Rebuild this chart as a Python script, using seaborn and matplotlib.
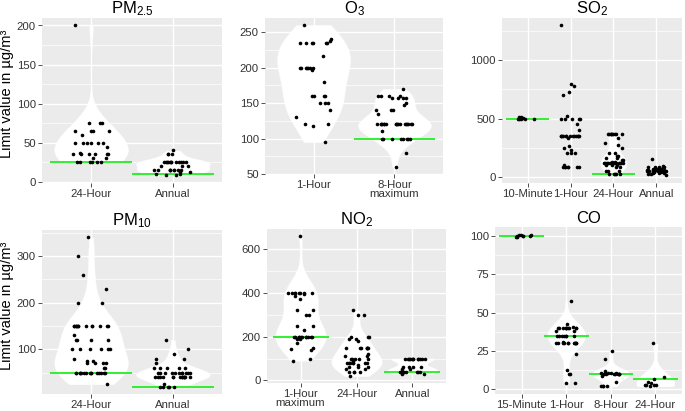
import numpy as np
import pandas as pd
import matplotlib
matplotlib.use('Agg')
import matplotlib.pyplot as plt
import seaborn as sns
from matplotlib.ticker import MultipleLocator, NullLocator

# ---- values ----
# PM2.5
pm25_cats = ['24-Hour', 'Annual']
pm25_24h = [200, 75, 75, 75, 65, 65, 65, 65, 60, 50, 50, 50, 50, 50, 50, 45, 37,
            35, 35, 35, 35, 35, 35, 30, 30, 25, 25, 25, 25, 25, 25]
pm25_annual = [40, 35, 35, 35] + [25] * 12 + [20, 20, 20] + [15] * 9 + [12, 12, 10, 10, 8, 8]
pm25_guide = [25, 10]

# O3
o3_cats = ['1-Hour', '8-Hour\nmaximum']
o3_1h = [260, 240, 237, 235, 235, 235, 235, 235, 235, 217] + [200] * 7 + \
        [197, 180, 160, 160, 160, 160, 150, 150, 150, 140, 130, 120, 120, 118, 95]
o3_8h = [170] + [160] * 4 + [157] * 4 + [150, 147, 140, 140, 140, 135] + [120] * 18 + \
        [110] + [100] * 8 + [80, 60]
o3_guide = [None, 100]

# SO2
so2_cats = ['10-Minute', '1-Hour', '24-Hour', 'Annual']
so2_10m = [500, 500, 505, 500, 505, 500, 495, 510, 510]
so2_1h = [1300, 800, 780, 730, 700, 520] + [500] * 5 + [450, 400] + [350] * 13 + \
         [330, 260, 250, 230, 200, 200, 200, 100] + [80] * 7
so2_24h = [370] * 9 + [330, 290, 270, 250, 200, 200, 180, 180, 160, 160, 140, 140, 130, 130] + \
          [120] * 12 + [100, 100, 100, 80, 80, 50, 50, 50] + [20] * 5
so2_annual = [150, 90] + [80] * 5 + [70] * 3 + [60] * 8 + [50] * 6 + [40] * 5 + [30] * 3 + [20, 20, 10]
so2_guide = [500, None, 20, None]

# PM10
pm10_cats = ['24-Hour', 'Annual']
pm10_24h = [340, 300, 260, 230, 200, 200] + [150] * 13 + [130, 120, 120, 120, 120] + [100] * 6 + \
           [80, 75, 75, 70, 70, 70, 70, 60, 60] + [50] * 15 + [25]
pm10_annual = [120, 100, 90, 80, 80, 70] + [60] * 5 + [50] * 11 + [40] * 14 + [25] + [20] * 5
pm10_guide = [50, 20]

# NO2
no2_cats = ['1-Hour\nmaximum', '24-Hour', 'Annual']
no2_1h = [660] + [400] * 8 + [395, 385, 370, 320, 320, 300, 300, 250, 250, 230] + [200] * 11 + \
         [190, 190, 170, 150, 145, 140, 100, 90]
no2_24h = [320, 300, 300, 200, 200, 200, 190, 190, 180] + [150] * 7 + [120, 110, 110] + [100] * 5 + \
          [90] + [80] * 7 + [70, 60, 60, 60, 50, 50, 40, 40, 40, 40, 20]
no2_annual = [100] * 12 + [60] * 4 + [50, 50] + [40] * 9 + [30, 30]
no2_guide = [200, None, 40]

# CO
co_cats = ['15-Minute', '1-Hour', '8-Hour', '24-Hour']
co_15m = [100, 99.5, 100, 100.5, 100, 101, 100.5, 99.5, 100]
co_1h = [58, 43, 41] + [40] * 10 + [38, 38] + [35] * 7 + [31] + [30] * 11 + [23, 13, 10, 10, 4, 4]
co_8h = [25, 20, 12] + [11] * 5 + [10] * 9 + [9, 5, 2, 2, 2, 2]
co_24h = [30, 8, 7, 5, 4, 3, 3, 3, 3, 2]
co_guide = [100, 35, 10, 7]

# ---- layout: (title, categories, series, guideline, groups without violin,
#               violin width, major, minor, panel box in px (l, t, r, b), y label)
panels = [
    ('PM$_{2.5}$', pm25_cats, [pm25_24h, pm25_annual], pm25_guide, [], 0.9, 50, 25, (42, 18, 222, 183), True),
    ('O$_3$', o3_cats, [o3_1h, o3_8h], o3_guide, [], 0.9, 50, 25, (265, 18, 443, 174), False),
    ('SO$_2$', so2_cats, [so2_10m, so2_1h, so2_24h, so2_annual], so2_guide, [0, 1], 0.6, 500, 250, (502, 18, 682, 183), False),
    ('PM$_{10}$', pm10_cats, [pm10_24h, pm10_annual], pm10_guide, [], 0.9, 100, 50, (42, 230, 222, 394), True),
    ('NO$_2$', no2_cats, [no2_1h, no2_24h, no2_annual], no2_guide, [], 0.9, 200, 100, (267, 229, 446, 383), False),
    ('CO', co_cats, [co_15m, co_1h, co_8h, co_24h], co_guide, [0], 0.85, 25, 12.5, (495, 227, 682, 394), False),
]

plt.rcParams['font.family'] = ['Liberation Sans', 'DejaVu Sans']
plt.rcParams['mathtext.fontset'] = 'custom'
plt.rcParams['mathtext.rm'] = 'Liberation Sans'
plt.rcParams['mathtext.default'] = 'regular'

W, H = 685, 411
fig = plt.figure(figsize=(W / 100, H / 100), dpi=100, facecolor='white')
np.random.seed(7)

for title, cats, series, guide, no_violin, vwidth, major, minor, box, ylab in panels:
    l, t, r, b = box
    ax = fig.add_axes([l / W, 1 - b / H, (r - l) / W, (b - t) / H])
    ax.set_facecolor('#EBEBEB')

    df = pd.concat([pd.DataFrame({'period': c, 'value': v}) for c, v in zip(cats, series)],
                   ignore_index=True)
    df_v = df[~df['period'].isin([cats[i] for i in no_violin])]

    sns.violinplot(data=df_v, x='period', y='value', order=cats, ax=ax, color='white',
                   saturation=1, linecolor='white', linewidth=0.3, inner=None, cut=0,
                   density_norm='width', width=vwidth, bw_adjust=1.15)

    for i, g in enumerate(guide):
        if g is not None:
            ax.hlines(g, i - 0.5, i + 0.5, color='#22EE22', lw=1.3, zorder=3)

    sns.stripplot(data=df, x='period', y='value', order=cats, ax=ax, color='black',
                  size=2.6, jitter=0.23, linewidth=0, zorder=4)

    ax.set_xlim(-0.6, len(cats) - 0.4)
    ax.margins(y=0.05)
    ax.autoscale(axis='y')
    ax.yaxis.set_major_locator(MultipleLocator(major))
    ax.yaxis.set_minor_locator(MultipleLocator(minor))
    ax.xaxis.set_minor_locator(NullLocator())
    ax.set_axisbelow(True)
    ax.grid(which='major', color='white', lw=1.0)
    ax.grid(which='minor', axis='y', color='white', lw=0.5)
    for s in ax.spines.values():
        s.set_visible(False)
    ax.tick_params(which='major', length=3, width=0.6, color='#333333',
                   labelsize=8.2, labelcolor='#333333', pad=1.5)
    ax.tick_params(axis='x', which='major', pad=1)
    for lab in ax.get_xticklabels():
        lab.set_linespacing(0.9)
    ax.tick_params(which='minor', length=0)
    ax.set_xlabel('')
    ax.set_ylabel('Limit value in µg/m³' if ylab else '', fontsize=10.5)
    if ylab:
        ax.yaxis.set_label_coords(-0.158, 0.54)
    ax.set_title(title, fontsize=12, pad=3)

fig.savefig('out.png', dpi=100, facecolor='white')
